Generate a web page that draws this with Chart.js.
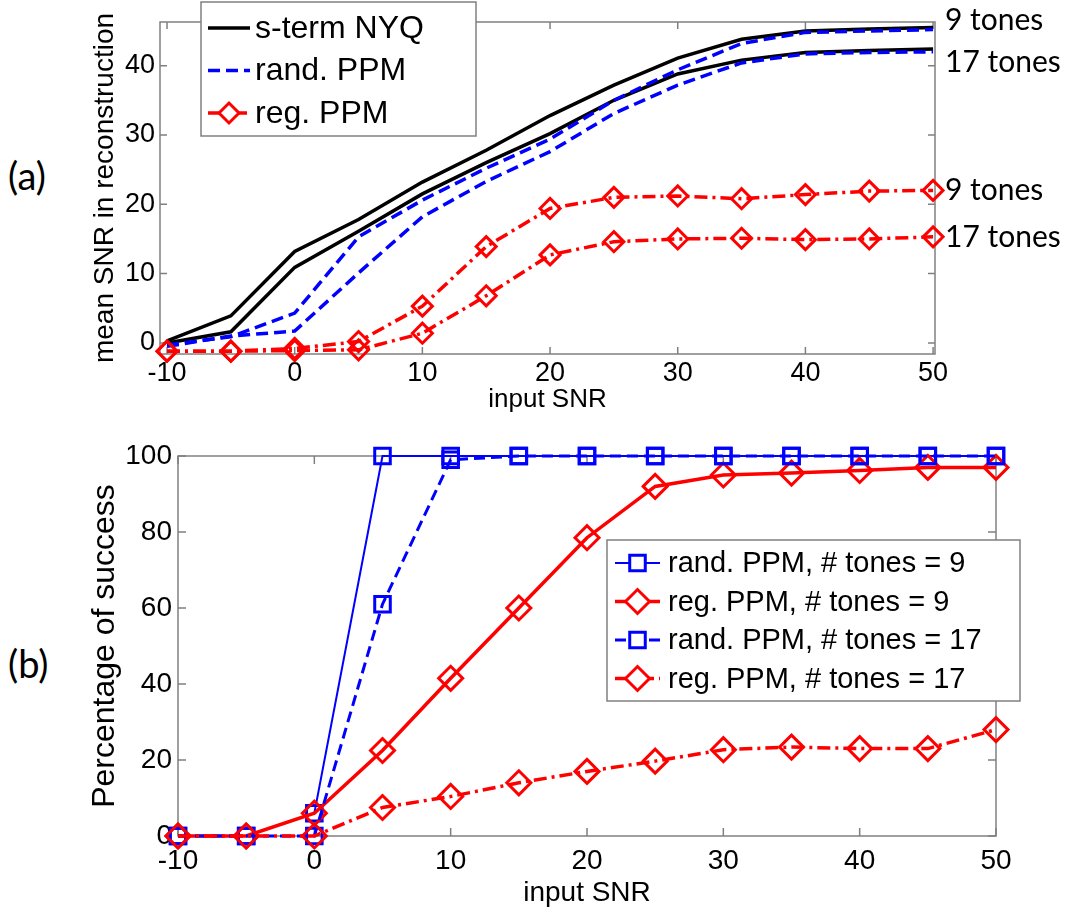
<!DOCTYPE html>
<html>
<head>
<meta charset="utf-8">
<title>SNR reconstruction / success rate</title>
<script src="https://cdn.jsdelivr.net/npm/chart.js@4.4.1/dist/chart.umd.min.js"></script>
<style>
  body { margin:0; background:#fff; width:1073px; height:909px; position:relative; overflow:hidden; }
  canvas { position:absolute; left:0; }
  #chartA { top:0; }
  #chartB { top:420px; }
  .panel { position:absolute; font-family:Lato,'Open Sans',sans-serif; font-size:38px; color:#000; line-height:1; }
</style>
</head>
<body>
<div class="panel" style="left:8px;top:156px;">(a)</div>
<div class="panel" style="left:8px;top:644px;">(b)</div>
<canvas id="chartA" width="1073" height="420"></canvas>
<canvas id="chartB" width="1073" height="489"></canvas>
<script>
/* ---- data ---- */
const snr = [-10,-5,0,5,10,15,20,25,30,35,40,45,50];
const xTicks = [-10,0,10,20,30,40,50];
const yTicksA = [0,10,20,30,40];
const yTicksB = [0,20,40,60,80,100];

// (a) mean SNR in reconstruction
const nyq9   = [0.3, 3.9, 13.2, 17.8, 23.2, 27.8, 32.8, 37.2, 41.1, 43.8, 45.0, 45.3, 45.5];
const nyq17  = [0.0, 1.6, 10.9, 16.1, 21.5, 26.0, 30.2, 35.0, 38.8, 40.8, 41.9, 42.2, 42.4];
const rand9  = [-0.3, 0.9, 4.3, 15.3, 20.6, 25.2, 29.4, 35.0, 39.4, 43.2, 44.8, 45.0, 45.2];
const rand17 = [-0.5, 1.0, 1.7, 10.1, 18.2, 23.3, 27.6, 33.1, 37.2, 40.4, 41.7, 41.9, 42.0];
const reg9   = [-1.2, -1.2, -0.8, 0.2, 5.3, 13.9, 19.4, 21.0, 21.2, 20.8, 21.4, 21.9, 22.0];
const reg17  = [-1.2, -1.2, -1.1, -1.0, 1.4, 6.8, 12.7, 14.6, 15.0, 15.1, 14.9, 15.0, 15.3];

// (b) percentage of success
const succRand9  = [0, 0, 6, 100, 100, 100, 100, 100, 100, 100, 100, 100, 100];
const succReg9   = [0, 0, 6, 22.5, 41.5, 60, 78.5, 92, 95, 95.5, 96.2, 97, 97];
const succRand17 = [0, 0, 0, 61, 99, 100, 100, 100, 100, 100, 100, 100, 100];
const succReg17  = [0, 0, 0, 7.5, 10.4, 14, 17, 19.7, 22.7, 23.4, 23, 23, 28];

Chart.defaults.font.family = "'Liberation Sans', Arial, sans-serif";
Chart.defaults.color = '#000';

const BLUE = '#0000ff', RED = '#ff0000', BLACK = '#000000', AXIS = '#808080';

function series(label, ys, style){
  return Object.assign({
    label,
    data: snr.map((x,i)=>({ x, y: ys[i] })),
    tension: 0,
    pointRadius: 0,
    pointBackgroundColor: 'rgba(0,0,0,0)',
    clip: false,
  }, style);
}

/* box around the axes + MATLAB style inward ticks */
const framePlugin = {
  id: 'frame',
  beforeDatasetsDraw(chart, args, opts){
    const { ctx, chartArea: a, scales: { x, y } } = chart;
    ctx.save();
    ctx.strokeStyle = AXIS;
    ctx.lineWidth = 1.5;
    ctx.strokeRect(a.left, a.top, a.right - a.left, a.bottom - a.top);
    const L = opts.len || 7;
    ctx.beginPath();
    x.ticks.forEach(t => {
      const px = x.getPixelForValue(t.value);
      ctx.moveTo(px, a.bottom); ctx.lineTo(px, a.bottom - L);
      ctx.moveTo(px, a.top); ctx.lineTo(px, a.top + L);
    });
    y.ticks.forEach(t => {
      const py = y.getPixelForValue(t.value);
      ctx.moveTo(a.left, py); ctx.lineTo(a.left + L, py);
      ctx.moveTo(a.right, py); ctx.lineTo(a.right - L, py);
    });
    ctx.stroke();
    ctx.restore();
  }
};

/* boxed legend placed inside the figure */
const boxLegend = {
  id: 'boxLegend',
  afterDraw(chart, args, o){
    if (!o.items) return;
    const ctx = chart.ctx;
    ctx.save();
    ctx.fillStyle = '#fff';
    ctx.fillRect(o.x, o.y, o.w, o.h);
    ctx.strokeStyle = AXIS; ctx.lineWidth = 1.5;
    ctx.strokeRect(o.x, o.y, o.w, o.h);
    ctx.font = o.font;
    ctx.textBaseline = 'middle';
    o.items.forEach((idx, k) => {
      const ds = chart.data.datasets[idx];
      const yy = o.y + o.first + k * o.step;
      ctx.strokeStyle = ds.borderColor;
      ctx.lineWidth = ds.borderWidth;
      ctx.setLineDash(ds.borderDash || []);
      ctx.beginPath();
      ctx.moveTo(o.x + o.lx0, yy); ctx.lineTo(o.x + o.lx1, yy);
      ctx.stroke();
      ctx.setLineDash([]);
      if (ds.pointRadius > 0){
        ctx.fillStyle = '#fff';
        ctx.strokeStyle = ds.pointBorderColor || ds.borderColor;
        ctx.lineWidth = ds.pointBorderWidth || 2;
        Chart.helpers.drawPoint(ctx, {
          pointStyle: ds.pointStyle, radius: ds.pointRadius, rotation: 0,
          borderWidth: ds.pointBorderWidth || 2
        }, (o.x + (o.lx0 + o.lx1) / 2), yy);
      }
      ctx.fillStyle = '#000';
      ctx.fillText(ds.label, o.x + o.tx, yy + 1);
    });
    ctx.restore();
  }
};

/* "9 tones" / "17 tones" labels at the right end of the curves */
const endLabels = {
  id: 'endLabels',
  afterDraw(chart, args, o){
    if (!o.items) return;
    const { ctx, chartArea: a, scales: { y } } = chart;
    ctx.save();
    ctx.font = o.font;
    ctx.fillStyle = '#000';
    ctx.textBaseline = 'middle';
    o.items.forEach(it => {
      const ds = chart.data.datasets[it.ds];
      const last = ds.data[ds.data.length - 1].y;
      ctx.fillText(it.text, a.right + 10, y.getPixelForValue(last) + it.dy);
    });
    ctx.restore();
  }
};

function fixedTicks(list){
  return scale => { scale.ticks = list.map(v => ({ value: v })); };
}

const noGrid = { display: false, drawTicks: false };

/* ---------- (a) ---------- */
const dashA = [12, 6], dashDotA = [13, 5, 3, 5];
new Chart(document.getElementById('chartA'), {
  type: 'line',
  data: { datasets: [
    series('s-term NYQ', nyq9,  { borderColor: BLACK, borderWidth: 3.5, order: 6 }),
    series('s-term NYQ', nyq17, { borderColor: BLACK, borderWidth: 3.5, order: 5 }),
    series('rand. PPM', rand9,  { borderColor: BLUE, borderWidth: 3.5, borderDash: dashA, order: 4 }),
    series('rand. PPM', rand17, { borderColor: BLUE, borderWidth: 3.5, borderDash: dashA, order: 3 }),
    series('reg. PPM', reg9,    { borderColor: RED, borderWidth: 3.5, borderDash: dashDotA,
      pointStyle: 'rectRot', pointRadius: 10, pointBorderColor: RED, pointBorderWidth: 3, order: 2 }),
    series('reg. PPM', reg17,   { borderColor: RED, borderWidth: 3.5, borderDash: dashDotA,
      pointStyle: 'rectRot', pointRadius: 10, pointBorderColor: RED, pointBorderWidth: 3, order: 1 }),
  ]},
  options: {
    responsive: false,
    animation: false,
    events: [],
    layout: { padding: { top: 22, right: 138, bottom: 0, left: 0 } },
    plugins: {
      legend: { display: false },
      tooltip: { enabled: false },
      frame: { len: 7 },
      boxLegend: { x: 201, y: 2, w: 275, h: 134, first: 26, step: 42.5, lx0: 7, lx1: 49, tx: 54,
        font: "32px 'Liberation Sans', Arial, sans-serif", items: [0, 2, 4] },
      endLabels: { font: "30px Lato, 'Open Sans', sans-serif", items: [
        { ds: 0, text: '9 tones', dy: -7 },
        { ds: 1, text: '17 tones', dy: 13 },
        { ds: 4, text: '9 tones', dy: 0 },
        { ds: 5, text: '17 tones', dy: 0 },
      ]},
    },
    scales: {
      x: {
        type: 'linear', min: -10.55, max: 50.15,
        afterBuildTicks: fixedTicks(xTicks),
        afterFit: s => { s.height = 66; },
        grid: noGrid, border: { display: false },
        ticks: { font: { size: 27 }, padding: 3, maxRotation: 0, autoSkip: false },
        title: { display: true, text: 'input SNR', font: { size: 26, lineHeight: 1 }, padding: { top: 0, bottom: 7 } },
      },
      y: {
        type: 'linear', min: -1.6, max: 46.3,
        afterBuildTicks: fixedTicks(yTicksA),
        afterFit: s => { s.width = 160; },
        grid: noGrid, border: { display: false },
        ticks: { font: { size: 27 }, padding: 5 },
        title: { display: true, text: 'mean SNR in reconstruction', font: { size: 28, lineHeight: 1 }, padding: { top: 91, bottom: 0 } },
      },
    },
  },
  plugins: [framePlugin, boxLegend, endLabels],
});

/* ---------- (b) ---------- */
const dashB = [11, 6], dashDotB = [13, 5, 3, 5];
new Chart(document.getElementById('chartB'), {
  type: 'line',
  data: { datasets: [
    series('rand. PPM, # tones = 9', succRand9, { borderColor: BLUE, borderWidth: 2,
      pointStyle: 'rect', pointRadius: 11, pointBorderColor: BLUE, pointBorderWidth: 3, order: 4 }),
    series('reg. PPM, # tones = 9', succReg9, { borderColor: RED, borderWidth: 3.5,
      pointStyle: 'rectRot', pointRadius: 12, pointBorderColor: RED, pointBorderWidth: 3, order: 3 }),
    series('rand. PPM, # tones = 17', succRand17, { borderColor: BLUE, borderWidth: 3, borderDash: dashB,
      pointStyle: 'rect', pointRadius: 11, pointBorderColor: BLUE, pointBorderWidth: 3, order: 2 }),
    series('reg. PPM, # tones = 17', succReg17, { borderColor: RED, borderWidth: 3.5, borderDash: dashDotB,
      pointStyle: 'rectRot', pointRadius: 12, pointBorderColor: RED, pointBorderWidth: 3, order: 1 }),
  ]},
  options: {
    responsive: false,
    animation: false,
    events: [],
    layout: { padding: { top: 36, right: 77, bottom: 0, left: 0 } },
    plugins: {
      legend: { display: false },
      tooltip: { enabled: false },
      frame: { len: 8 },
      boxLegend: { x: 607, y: 120, w: 413, h: 161, first: 23, step: 38.5, lx0: 8, lx1: 53, tx: 61,
        font: "29px 'Liberation Sans', Arial, sans-serif", items: [0, 1, 2, 3] },
    },
    scales: {
      x: {
        type: 'linear', min: -10, max: 50,
        afterBuildTicks: fixedTicks(xTicks),
        afterFit: s => { s.height = 73; },
        grid: noGrid, border: { display: false },
        ticks: { font: { size: 28 }, padding: 8, maxRotation: 0, autoSkip: false },
        title: { display: true, text: 'input SNR', font: { size: 28, lineHeight: 1 }, padding: { top: 0, bottom: 2 } },
      },
      y: {
        type: 'linear', min: 0, max: 100,
        afterBuildTicks: fixedTicks(yTicksB),
        afterFit: s => { s.width = 178; },
        grid: noGrid, border: { display: false },
        ticks: { font: { size: 28 }, padding: 6 },
        title: { display: true, text: 'Percentage of success', font: { size: 32, lineHeight: 1 }, padding: { top: 89, bottom: 0 } },
      },
    },
  },
  plugins: [framePlugin, boxLegend],
});
</script>
</body>
</html>
